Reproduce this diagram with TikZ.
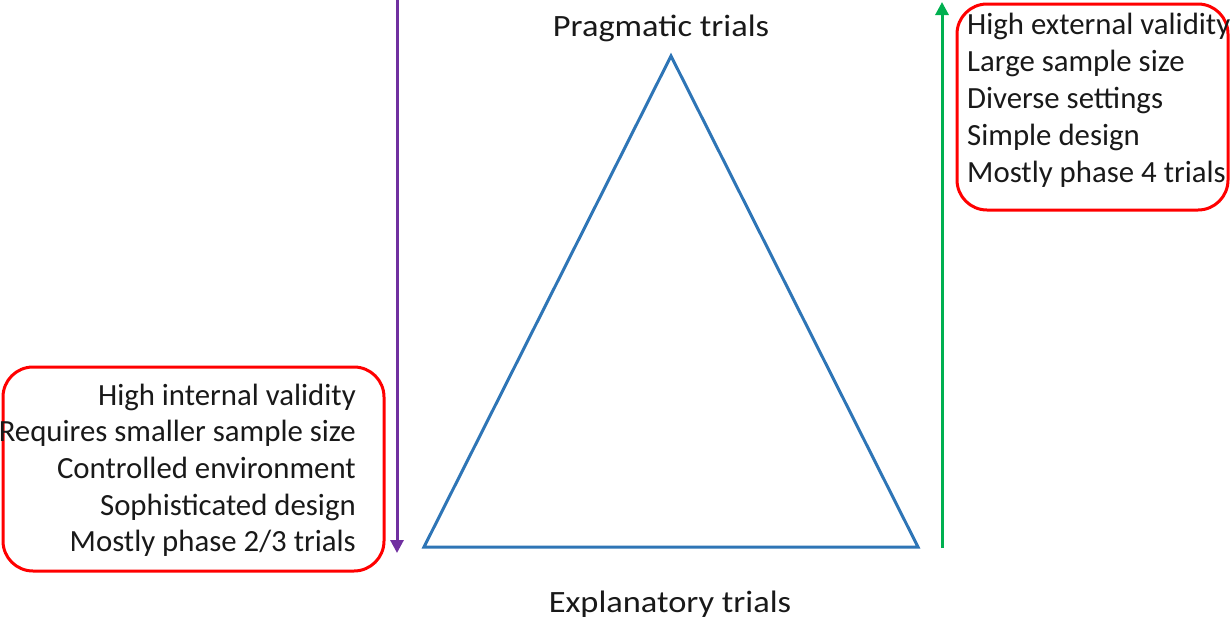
\documentclass[tikz,border=0pt]{standalone}
\usepackage{fontspec}
\setmainfont{Carlito}
\newfontfamily\titlefont{Carlito}[FakeStretch=1.11]
\usetikzlibrary{arrows.meta}
\definecolor{triblue}{RGB}{46,117,182}
\definecolor{arrpurple}{RGB}{112,48,160}
\definecolor{arrgreen}{RGB}{0,176,80}
\definecolor{boxred}{RGB}{255,0,0}
\begin{document}
\begin{tikzpicture}[x=1pt,y=-1pt,
  lbl/.style={font=\titlefont\fontsize{31}{36}\selectfont, text=black!90, inner sep=0pt},
  item/.style={font=\fontsize{30.8}{36}\selectfont, text=black!90, inner sep=0pt},
  redbox/.style={draw=boxred, line width=3pt, rounded corners=30pt},
  axisarrow/.style={line width=3pt, -{Triangle[length=13pt,width=13pt]}}]
\useasboundingbox (0,0) rectangle (1230,621);
% triangle
\coordinate (apex) at (671,56);
\coordinate (bl) at (424,547);
\coordinate (br) at (918,547);
\draw[triblue, line width=3pt, line join=miter] (apex) -- (bl) -- (br) -- cycle;
% titles
\node[lbl, anchor=base] (prag) at (661,36.5) {Pragmatic trials};
\node[lbl, anchor=base] (expl) at (670,612) {Explanatory trials};
% arrows
\coordinate (ptop) at (397,0);
\coordinate (pbot) at (397,553);
\draw[arrpurple, axisarrow] (ptop) -- (pbot);
\coordinate (gbot) at (942,548);
\coordinate (gtop) at (942,2);
\draw[arrgreen, axisarrow] (gbot) -- (gtop);
% right box
\draw[redbox] (957,4) rectangle (1228,210);
\foreach \t [count=\i] in {High external validity,Large sample size,Diverse settings,Simple design,Mostly phase 4 trials}
  \node[item, anchor=base west] (r\i) at (967,{34.3+37*(\i-1)}) {\t};
% left box
\draw[redbox] (3,367) rectangle (384,571);
\foreach \t [count=\i] in {High internal validity,Requires smaller sample size,Controlled environment,Sophisticated design,Mostly phase 2/3 trials}
  \node[item, anchor=base east] (l\i) at (356,{405+36.7*(\i-1)}) {\t};
\end{tikzpicture}
\end{document}
